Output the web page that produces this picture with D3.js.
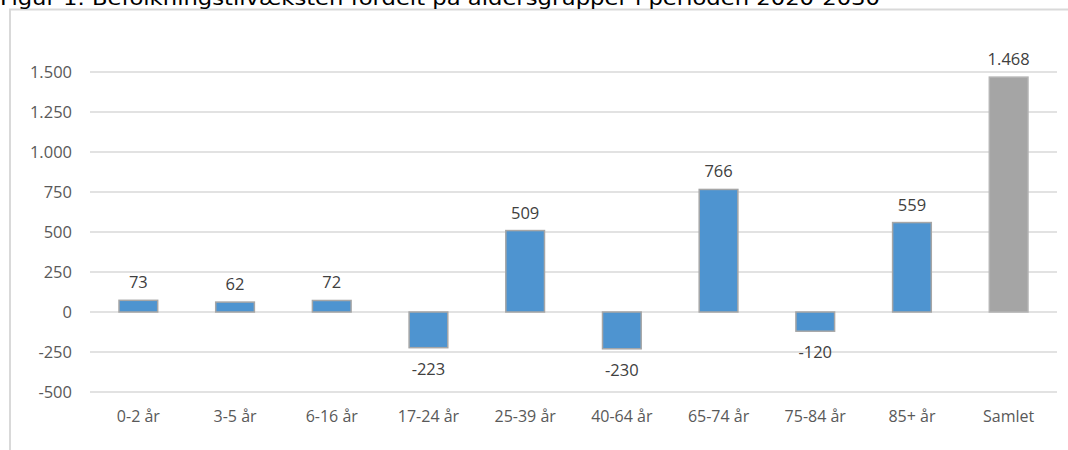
<!DOCTYPE html>
<html>
<head>
<meta charset="utf-8">
<script src="https://cdn.jsdelivr.net/npm/d3@7"></script>
<style>
  body { margin: 0; background: #fff; }
  svg { display: block; }
</style>
</head>
<body>
<div id="chart"></div>
<script>
const categories = ["0-2 år", "3-5 år", "6-16 år", "17-24 år", "25-39 år", "40-64 år", "65-74 år", "75-84 år", "85+ år", "Samlet"];
const values = [73, 62, 72, -223, 509, -230, 766, -120, 559, 1468];
const yTicks = [-500, -250, 0, 250, 500, 750, 1000, 1250, 1500];
const title = "Figur 1. Befolkningstilvæksten fordelt på aldersgrupper i perioden 2020-2030";

const width = 1068, height = 450;
const margin = { left: 90, right: 11 };

const svg = d3.select("#chart")
  .append("svg")
  .attr("width", width)
  .attr("height", height);

// frame
svg.append("path")
  .attr("d", `M10,${height + 2} L10,9.5 L${width + 2},9.5`)
  .attr("fill", "none")
  .attr("stroke", "#d9d9d9")
  .attr("stroke-width", 2);

// title (cut off at the top, as in the source)
svg.append("text")
  .attr("x", 0)
  .attr("y", 5)
  .attr("font-family", "DejaVu Sans, Verdana, sans-serif")
  .attr("font-size", 19)
  .attr("fill", "#000")
  .attr("textLength", 880)
  .attr("lengthAdjust", "spacingAndGlyphs")
  .text(title);

const x = d3.scaleBand()
  .domain(categories)
  .range([margin.left, width - margin.right])
  .paddingInner(0.6)
  .paddingOuter(0.3);

const y = d3.scaleLinear()
  .domain([-500, 1500])
  .range([392, 72]);

// gridlines
svg.append("g")
  .selectAll("line")
  .data(yTicks)
  .join("line")
  .attr("x1", margin.left)
  .attr("x2", width - margin.right)
  .attr("y1", d => y(d))
  .attr("y2", d => y(d))
  .attr("stroke", "#d9d9d9")
  .attr("stroke-width", 1.5);

// danish number format, plain hyphen for minus
const fmt = d => d3.formatLocale({ decimal: ",", thousands: ".", grouping: [3], currency: ["", ""], minus: "-" }).format(",d")(d);

svg.append("g")
  .selectAll("text")
  .data(yTicks)
  .join("text")
  .attr("x", 72)
  .attr("y", d => y(d) + 6)
  .attr("text-anchor", "end")
  .attr("font-family", "Open Sans, Noto Sans, sans-serif")
  .attr("font-size", 16.5)
  .attr("fill", "#595959")
  .text(d => fmt(d));

// bars
svg.append("g")
  .selectAll("rect")
  .data(values)
  .join("rect")
  .attr("x", (d, i) => x(categories[i]))
  .attr("width", x.bandwidth())
  .attr("y", d => y(Math.max(0, d)))
  .attr("height", d => Math.abs(y(d) - y(0)))
  .attr("fill", (d, i) => categories[i] === "Samlet" ? "#a5a5a5" : "#4e94d0")
  .attr("stroke", (d, i) => categories[i] === "Samlet" ? "#b4b4b4" : "#a6a6a6")
  .attr("stroke-width", 1.5);

// value labels
svg.append("g")
  .selectAll("text")
  .data(values)
  .join("text")
  .attr("x", (d, i) => x(categories[i]) + x.bandwidth() / 2)
  .attr("y", d => d >= 0 ? y(d) - 12 : y(d) + 27)
  .attr("text-anchor", "middle")
  .attr("font-family", "Open Sans, Noto Sans, sans-serif")
  .attr("font-size", 16.5)
  .attr("fill", "#404040")
  .text(d => fmt(d));

// x axis labels
svg.append("g")
  .selectAll("text")
  .data(categories)
  .join("text")
  .attr("x", d => x(d) + x.bandwidth() / 2)
  .attr("y", 422)
  .attr("text-anchor", "middle")
  .attr("font-family", "Open Sans, Noto Sans, sans-serif")
  .attr("font-size", 16)
  .attr("fill", "#595959")
  .text(d => d);
</script>
</body>
</html>
